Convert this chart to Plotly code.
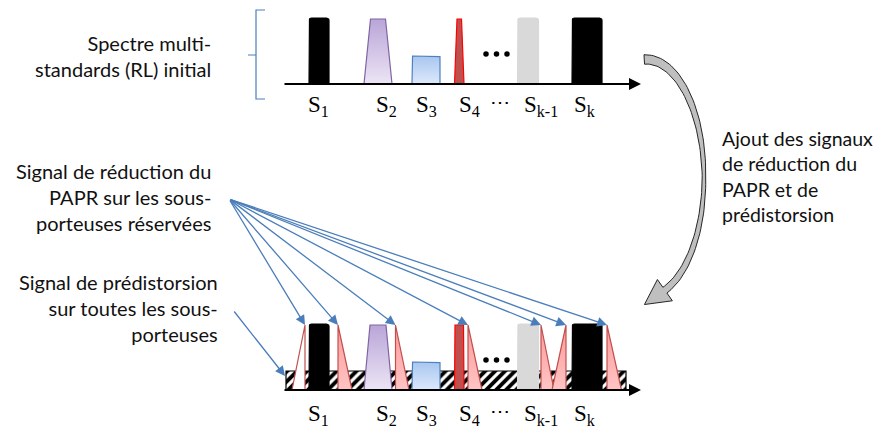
import numpy as np
import plotly.graph_objects as go

W, H = 886, 430

# ---------------- data (diagram geometry, canvas pixels) ----------------
sig_labels = ["S<sub>1</sub>", "S<sub>2</sub>", "S<sub>3</sub>", "S<sub>4</sub>",
              "S<sub>k-1</sub>", "S<sub>k</sub>"]
sig_x0 = [309, 364, 412, 454.5, 517.5, 572]
sig_x1 = [329, 392, 440, 464, 538.5, 602]
sig_inset_initial = [0, 6.5, 0, 2.5, 0, 0]
sig_inset_final = [0, 6.0, 0, 0.5, 0, 0]
sig_corner = [2.5, 0, 0.8, 0, 2.5, 2.5]
sig_height = [66, 65, 28, 65, 66, 66]
sig_top_color = ["#000000", "#ece5f5", "#dde9fb", "#c0504d", "#d9d9d9", "#000000"]
sig_bot_color = ["#000000", "#b9a5d8", "#a8c6f0", "#c0504d", "#d9d9d9", "#000000"]
sig_edge = ["#000000", "#8064a2", "#4f81bd", "#ff0000", "#d9d9d9", "#000000"]
label_x = [305.5, 373.5, 413.5, 456.5, 521.5, 571.5]

dots_x = [486, 496.5, 507]

tri_apex = [305, 338, 395.5, 468, 541, 566, 607]
tri_far = [292, 352, 409, 482, 554, 552, 621.5]
tri_fill = ["#ffffff", "pink", "pink", "pink", "pink", "pink", "pink"]
tri_height = 65

base_initial = 84
base_final = 390
axis_x = [283, 641]
hatch_x = [286, 626]
hatch_h = 19

arrow_src = (229, 199)
arrow2_src = (233, 310)
arrow2_dst = (285, 376)

txt_spectre = "Spectre multi-<br>standards (RL) initial"
txt_papr = "Signal de réduction du<br>PAPR sur les sous-<br>porteuses réservées"
txt_dpd = "Signal de prédistorsion<br>sur toutes les sous-<br>porteuses"
txt_ajout = "Ajout des signaux<br>de réduction du<br>PAPR et de<br>prédistorsion"

FONT = "Lato"
FS = 20
BLUE = "#4a7ebb"
TXT = "#111111"

fig = go.Figure()

def poly(xs, ys, fill, edge, lw=1.0, grad=None, pattern=None):
    kw = {}
    if grad is not None:
        kw["fillgradient"] = dict(type="vertical", colorscale=[[0, grad[0]], [1, grad[1]]])
    if pattern is not None:
        kw["fillpattern"] = pattern
    fig.add_trace(go.Scatter(x=list(xs) + [xs[0]], y=list(ys) + [ys[0]], mode="lines",
                             fill="toself", fillcolor=fill,
                             line=dict(color=edge, width=lw), hoverinfo="skip",
                             showlegend=False, **kw))

def signal_outline(x0, x1, ins, h, base, r):
    if r <= 0 or ins > 0:
        return [x0, x0 + ins, x1 - ins, x1], [base, base - h, base - h, base]
    t = np.linspace(0, np.pi / 2, 6)
    top = base - h
    xs = [x0] + list(x0 + r - r * np.cos(t)) + list(x1 - r + r * np.sin(t)) + [x1]
    ys = [base] + list(top + r - r * np.sin(t)) + list(top + r - r * np.cos(t)) + [base]
    return xs, ys

def spectrum(base, insets, label_y):
    for i in range(len(sig_x0)):
        xs, ys = signal_outline(sig_x0[i], sig_x1[i], insets[i], sig_height[i], base,
                                sig_corner[i])
        grad = None
        if sig_top_color[i] != sig_bot_color[i]:
            grad = (sig_top_color[i], sig_bot_color[i])
        poly(xs, ys, sig_top_color[i], sig_edge[i], 1.2, grad)
        fig.add_annotation(x=label_x[i], y=label_y, text=sig_labels[i], showarrow=False,
                           xanchor="left", yanchor="middle",
                           font=dict(family="Liberation Serif", size=23, color="black"))
    fig.add_trace(go.Scatter(x=dots_x, y=[base - 30] * 3, mode="markers",
                             marker=dict(color="black", size=5.5), hoverinfo="skip",
                             showlegend=False))
    fig.add_annotation(x=500, y=label_y - 4, text="\u22ef", showarrow=False,
                       font=dict(family="Liberation Serif", size=20, color="black"))
    fig.add_annotation(x=axis_x[1], y=base, ax=axis_x[0], ay=base, axref="x", ayref="y",
                       xref="x", yref="y", text="", showarrow=True, arrowhead=2,
                       arrowsize=1.2, arrowwidth=2, arrowcolor="black", standoff=0)

# ---- initial spectrum
spectrum(base_initial, sig_inset_initial, 106)

# brace
fig.add_trace(go.Scatter(x=[265, 256, 256, 248, 256, 256, 265],
                         y=[10, 10, 55, 55, 55, 99, 99], mode="lines",
                         line=dict(color=BLUE, width=1.2), hoverinfo="skip",
                         showlegend=False))

# ---- final spectrum: hatched band
poly([hatch_x[0], hatch_x[1], hatch_x[1], hatch_x[0]],
     [base_final, base_final, base_final - hatch_h, base_final - hatch_h],
     "black", "black", 1.2,
     pattern=dict(shape="/", fgcolor="white", bgcolor="black", size=7, solidity=0.45,
                  fillmode="replace"))
spectrum(base_final, sig_inset_final, 415)

for i in range(len(tri_apex)):
    xs = [tri_apex[i], tri_apex[i], tri_far[i]]
    ys = [base_final - tri_height, base_final, base_final]
    grad = None if tri_fill[i] == "#ffffff" else ("#ffc4c4", "#ff9a9a")
    poly(xs, ys, "#ffffff" if grad is None else "#ffb0b0", "#c0504d", 1.2, grad)

# arrows from text to reserved carriers
for ax_ in tri_apex:
    fig.add_annotation(x=ax_, y=base_final - tri_height, ax=arrow_src[0], ay=arrow_src[1],
                       axref="x", ayref="y", xref="x", yref="y", text="", showarrow=True,
                       arrowhead=2, arrowsize=1.5, arrowwidth=1.3, arrowcolor=BLUE, standoff=0)
fig.add_annotation(x=arrow2_dst[0], y=arrow2_dst[1], ax=arrow2_src[0], ay=arrow2_src[1],
                   axref="x", ayref="y", xref="x", yref="y", text="", showarrow=True,
                   arrowhead=2, arrowsize=1.5, arrowwidth=1.3, arrowcolor=BLUE, standoff=0)

# ---- curved gray arrow
cx, cy, a, b = 646, 178, 58, 118.6
phi = np.linspace(-0.03, 2.81, 80)
w = np.interp(phi, [-0.03, 1.57, 2.81], [9.5, 3.5, 7.0])
px = cx + a * np.sin(phi)
py = cy - b * np.cos(phi)
dx = a * np.cos(phi)
dy = b * np.sin(phi)
nrm = np.hypot(dx, dy)
tx, ty = dx / nrm, dy / nrm
nx, ny = ty, -tx   # outward normal
ox, oy = px + nx * w / 2, py + ny * w / 2
ix, iy = px - nx * w / 2, py - ny * w / 2
ex, ey = px[-1], py[-1]
etx, ety = tx[-1], ty[-1]
enx, eny = nx[-1], ny[-1]
hw, hl = 13, 25
head_x = [ex + enx * hw, ex + etx * hl, ex - enx * hw]
head_y = [ey + eny * hw, ey + ety * hl, ey - eny * hw]
cxs = list(ox) + head_x + list(ix[::-1])
cys = list(oy) + head_y + list(iy[::-1])
poly(cxs, cys, "#bfbfbf", "#262626", 1.0)

# ---- texts
fig.add_annotation(x=213, y=56, text=txt_spectre, showarrow=False, xanchor="right",
                   yanchor="middle", align="right", font=dict(family=FONT, size=FS, color=TXT))
fig.add_annotation(x=213, y=197, text=txt_papr, showarrow=False, xanchor="right",
                   yanchor="middle", align="right", font=dict(family=FONT, size=FS, color=TXT))
fig.add_annotation(x=220, y=308, text=txt_dpd, showarrow=False, xanchor="right",
                   yanchor="middle", align="right", font=dict(family=FONT, size=FS, color=TXT))
fig.add_annotation(x=720, y=176, text=txt_ajout, showarrow=False, xanchor="left",
                   yanchor="middle", align="left", font=dict(family=FONT, size=19.5, color=TXT))

fig.update_layout(width=W, height=H, autosize=False,
                  margin=dict(l=0, r=0, t=0, b=0),
                  paper_bgcolor="white", plot_bgcolor="white",
                  xaxis=dict(range=[0, W], visible=False, fixedrange=True),
                  yaxis=dict(range=[H, 0], visible=False, fixedrange=True),
                  showlegend=False)

fig.write_html("out.html", config={"displayModeBar": False},
               post_script="document.body.style.margin='0';document.body.style.overflow='hidden';")
